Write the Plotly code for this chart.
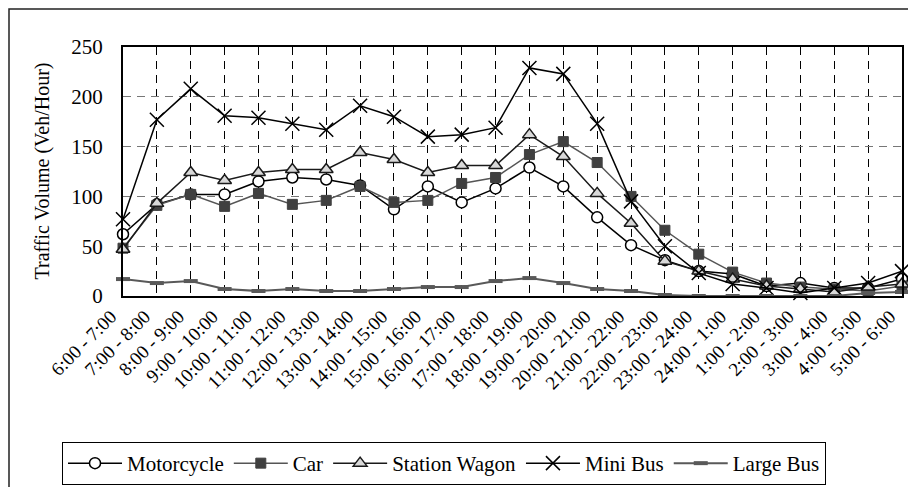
import plotly.graph_objects as go

categories = ["6:00 - 7:00", "7:00 - 8:00", "8:00 - 9:00", "9:00 - 10:00", "10:00 - 11:00",
              "11:00 - 12:00", "12:00 - 13:00", "13:00 - 14:00", "14:00 - 15:00", "15:00 - 16:00",
              "16:00 - 17:00", "17:00 - 18:00", "18:00 - 19:00", "19:00 - 20:00", "20:00 - 21:00",
              "21:00 - 22:00", "22:00 - 23:00", "23:00 - 24:00", "24:00 - 1:00", "1:00 - 2:00",
              "2:00 - 3:00", "3:00 - 4:00", "4:00 - 5:00", "5:00 - 6:00"]

motorcycle = [62, 92, 102, 102, 115, 119, 117, 111, 87, 110, 94, 108, 129, 110, 79, 51,
              36, 25, 22, 10, 13, 8, 8, 17]
car = [48, 91, 102, 90, 103, 92, 96, 110, 94, 96, 113, 119, 142, 155, 134, 100,
       66, 42, 24, 13, 9, 7, 5, 10]
station_wagon = [47, 93, 124, 116, 124, 127, 127, 144, 137, 124, 131, 131, 162, 140, 103, 73,
                 35, 25, 17, 10, 7, 4, 9, 12]
mini_bus = [77, 177, 208, 181, 179, 173, 167, 191, 180, 160, 162, 169, 229, 223, 173, 95,
            50, 23, 12, 8, 3, 8, 13, 25]
large_bus = [17, 13, 15, 7, 5, 7, 5, 5, 7, 9, 9, 15, 18, 13, 7, 5,
             1, 0, 0, 0, 0, 0, 3, 4]

FONT = "Liberation Serif, Times New Roman, serif"

fig = go.Figure()
fig.add_trace(go.Scatter(x=categories, y=motorcycle, name="Motorcycle", mode="lines+markers",
                         line=dict(color="#000000", width=1.5),
                         marker=dict(symbol="circle", size=11, color="#ffffff",
                                     line=dict(color="#000000", width=1.5)),
                         cliponaxis=False))
fig.add_trace(go.Scatter(x=categories, y=car, name="Car", mode="lines+markers",
                         line=dict(color="#555555", width=1.5),
                         marker=dict(symbol="square", size=10, color="#404040",
                                     line=dict(color="#404040", width=1)),
                         cliponaxis=False))
fig.add_trace(go.Scatter(x=categories, y=station_wagon, name="Station Wagon", mode="lines+markers",
                         line=dict(color="#1a1a1a", width=1.5),
                         marker=dict(symbol="triangle-up", size=12, color="#d9d9d9",
                                     line=dict(color="#1a1a1a", width=1.5)),
                         cliponaxis=False))
fig.add_trace(go.Scatter(x=categories, y=mini_bus, name="Mini Bus", mode="lines+markers",
                         line=dict(color="#000000", width=1.5),
                         marker=dict(symbol="x-thin", size=14, color="#000000",
                                     line=dict(color="#000000", width=1.5)),
                         cliponaxis=False))
fig.add_trace(go.Scatter(x=categories, y=large_bus, name="Large Bus", mode="lines+markers",
                         line=dict(color="#595959", width=2),
                         marker=dict(symbol="line-ew", size=10, color="#595959",
                                     line=dict(color="#595959", width=4)),
                         cliponaxis=False))

L, R, T, B = 123, 6, 47, 191
W, H = 908, 487
pw, ph = W - L - R, H - T - B

def px_x(p):
    return (p - L) / pw

def px_y(p):
    return (H - B - p) / ph

fig.update_layout(
    width=W, height=H,
    margin=dict(l=L, r=R, t=T, b=B, autoexpand=False),
    paper_bgcolor="#ffffff", plot_bgcolor="#ffffff",
    font=dict(family=FONT, size=20, color="#000000"),
    showlegend=True,
    legend=dict(orientation="h", x=px_x(62), y=px_y(442), xanchor="left", yanchor="top",
                bordercolor="#000000", borderwidth=1, bgcolor="#ffffff",
                font=dict(family=FONT, size=21), itemwidth=54, tracegroupgap=0),
    shapes=[dict(type="rect", xref="paper", yref="paper",
                 x0=px_x(9), x1=px_x(915), y0=px_y(495), y1=px_y(9),
                 line=dict(color="#222222", width=1.5), layer="below")],
    annotations=[dict(text="Traffic Volume (Veh/Hour)", xref="paper", yref="paper",
                      x=px_x(42), y=0.5, xanchor="center", yanchor="middle",
                      textangle=-90, showarrow=False,
                      font=dict(family=FONT, size=20, color="#000000"))],
)

fig.update_xaxes(type="category", categoryorder="array", categoryarray=categories,
                 range=[0, len(categories) - 1],
                 tickmode="array", tickvals=categories, ticktext=categories,
                 tickangle=-45, tickfont=dict(family=FONT, size=19), ticklabelshift=-12,
                 ticks="", showgrid=True, gridcolor="#000000", gridwidth=1, griddash="8px,6px",
                 showline=True, linecolor="#000000", linewidth=2, mirror=True,
                 automargin=False, zeroline=False)
fig.update_yaxes(range=[0, 250], dtick=50, tick0=0,
                 tickfont=dict(family=FONT, size=21), ticks="", ticklabelstandoff=14,
                 showgrid=True, gridcolor="#777777", gridwidth=1, griddash="8px,6px",
                 showline=True, linecolor="#000000", linewidth=2, mirror=True,
                 automargin=False, zeroline=False)

fig.write_html("out.html",
               config={"displayModeBar": False},
               post_script="document.body.style.margin='0';document.body.style.overflow='hidden';")
